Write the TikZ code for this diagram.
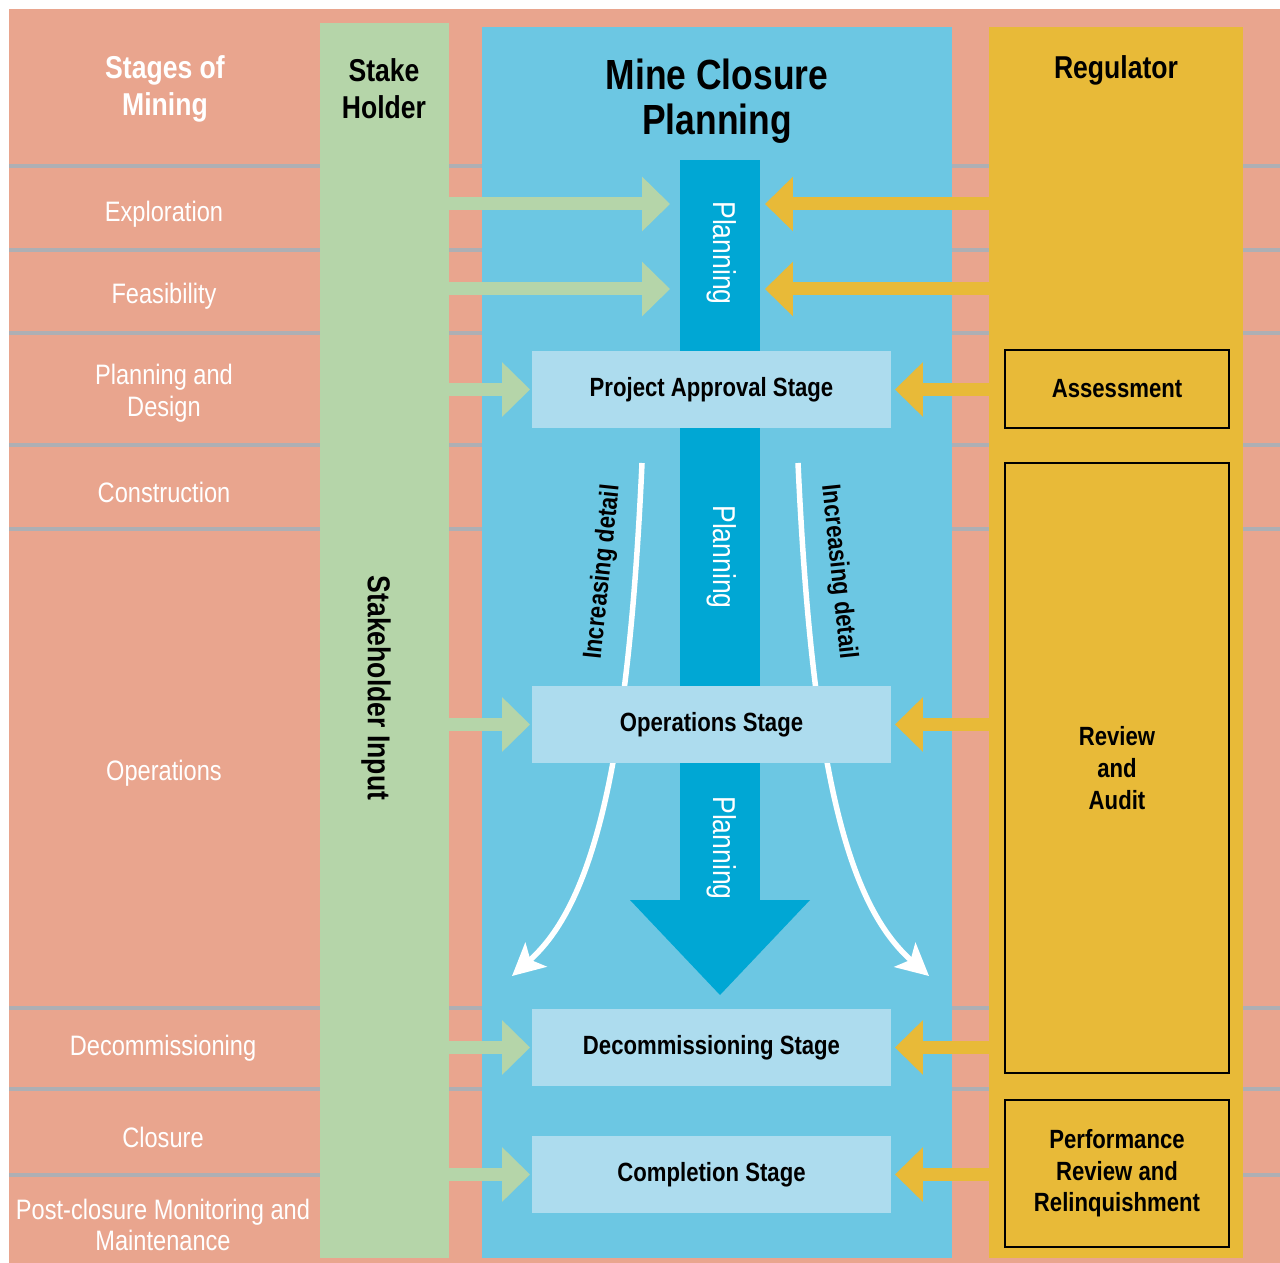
\documentclass[tikz,border=0pt]{standalone}
\usepackage{fontspec}
\setmainfont{Liberation Sans}[FakeStretch=0.84]
\usetikzlibrary{arrows.meta}
\definecolor{salmon}{RGB}{233,165,142}
\definecolor{sepgray}{RGB}{173,175,180}
\definecolor{stakegreen}{RGB}{181,213,169}
\definecolor{closureblue}{RGB}{108,199,227}
\definecolor{planblue}{RGB}{0,167,212}
\definecolor{boxblue}{RGB}{173,220,238}
\definecolor{reggold}{RGB}{232,186,56}
\tikzset{
  column/.style={inner sep=0pt, outer sep=0pt},
  sep/.style={draw=sepgray, line width=0.08cm},
  stagelabel/.style={text=white, align=center, font=\fontsize{16}{18}\selectfont},
  coltitle/.style={align=center, font=\bfseries\fontsize{18}{21}\selectfont},
  stagebox/.style={fill=boxblue, minimum width=7.18cm, minimum height=1.54cm, inner sep=0pt, outer sep=0pt, font=\bfseries\fontsize{15}{18}\selectfont},
  regbox/.style={draw=black, line width=1.4pt, minimum width=4.48cm, inner sep=0pt, align=center, font=\bfseries\fontsize{15}{18}\selectfont},
  planlabel/.style={text=white, rotate=-90, font=\fontsize{18}{20}\selectfont},
  detaillabel/.style={font=\bfseries\fontsize{15}{18}\selectfont},
  garrow/.style={draw=stakegreen, line width=0.26cm, -{Triangle[length=0.56cm, width=1.06cm]}},
  yarrow/.style={draw=reggold, line width=0.26cm, -{Triangle[length=0.56cm, width=1.06cm]}},
  detailarrow/.style={draw=white, line width=0.11cm, -{Stealth[length=0.64cm, width=0.64cm, inset=0.15cm]}}
}
\begin{document}
\begin{tikzpicture}[x=0.02cm, y=-0.02cm]
 \useasboundingbox[fill=white] (0,0) rectangle (1280,1263);
 \fill[salmon] (9,9) rectangle (1280,1263);
 \foreach \y in {166,250,333,445,529,1008,1089,1175}
   \draw[sep] (9,\y) -- (1280,\y);

 % columns
 \node[column, fill=stakegreen, minimum width=2.58cm, minimum height=24.7cm] (stake) at (384.5,640.5) {};
 \node[column, fill=closureblue, minimum width=9.4cm, minimum height=24.62cm] (closure) at (717,642.5) {};
 \node[column, fill=reggold, minimum width=5.08cm, minimum height=24.62cm] (regulator) at (1116,642.5) {};

 % stages of mining
 \node[coltitle, text=white] (stagestitle) at (165,89) {Stages of\\Mining};
 \node[stagelabel] (exploration) at (164,214) {Exploration};
 \node[stagelabel] (feasibility) at (164,296) {Feasibility};
 \node[stagelabel] (design) at (164,393) {Planning and\\Design};
 \node[stagelabel] (construction) at (164,492) {Construction};
 \node[stagelabel] (operations) at (164,773) {Operations};
 \node[stagelabel] (decommissioning) at (163,1048) {Decommissioning};
 \node[stagelabel] (closurelabel) at (163,1137) {Closure};
 \node[stagelabel] (postclosure) at (163,1225) {Post-closure Monitoring and\\Maintenance};

 \node[coltitle] (staketitle) at (384,89) {Stake\\Holder};
 \node[coltitle, rotate=-90] (stakeinput) at (376,688) {Stakeholder Input};
 \node[align=center, font=\bfseries\fontsize{24}{25.5}\selectfont] (closuretitle) at (717,101) {Mine Closure\\Planning};
 \node[coltitle] (regtitle) at (1116,70) {Regulator};

 % planning arrow
 \node[column, fill=planblue, minimum width=1.6cm, minimum height=14.8cm] (plan) at (720,530) {};
 \fill[planblue] (630,900) -- (810,900) -- (720,995) -- cycle;
 \node[planlabel] (plan1) at (722,253) {Planning};
 \node[planlabel] (plan2) at (722,557) {Planning};
 \node[planlabel] (plan3) at (722,848) {Planning};

 % increasing detail
 \coordinate (ldstart) at (642,463);
 \coordinate (ldend) at (512,976);
 \coordinate (rdstart) at (798,463);
 \coordinate (rdend) at (929,976);
 \draw[detailarrow] (ldstart) .. controls (628,770) and (592,905) .. (ldend);
 \draw[detailarrow] (rdstart) .. controls (812,770) and (848,905) .. (rdend);
 \node[detaillabel, rotate=84] (ldetail) at (603,572) {Increasing detail};
 \node[detaillabel, rotate=-84] (rdetail) at (838,572) {Increasing detail};

 % stages
 \node[stagebox] (approval) at (711.5,389.5) {Project Approval Stage};
 \node[stagebox] (opstage) at (711.5,724.5) {Operations Stage};
 \node[stagebox] (decstage) at (711.5,1047.5) {Decommissioning Stage};
 \node[stagebox] (completion) at (711.5,1174.5) {Completion Stage};

 % regulator boxes
 \node[regbox, minimum height=1.56cm] (assessment) at (1117,389) {Assessment};
 \node[regbox, minimum height=12.2cm] (review) at (1117,768) {Review\\and\\Audit};
 \node[regbox, minimum height=2.94cm] (performance) at (1117,1173.5) {Performance\\Review and\\Relinquishment};

 % inputs
 \coordinate (expl) at (0,204);
 \coordinate (feas) at (0,289);
 \draw[garrow, shorten >=0.2cm] (stake.east |- expl) -- (plan.west |- expl);
 \draw[garrow, shorten >=0.2cm] (stake.east |- feas) -- (plan.west |- feas);
 \draw[yarrow, shorten >=0.1cm] (regulator.west |- expl) -- (plan.east |- expl);
 \draw[yarrow, shorten >=0.1cm] (regulator.west |- feas) -- (plan.east |- feas);
 \foreach \s in {approval,opstage,decstage,completion}{
   \draw[garrow, shorten >=0.04cm] (stake.east |- \s) -- (\s.west);
   \draw[yarrow, shorten >=0.08cm] (regulator.west |- \s) -- (\s.east);
 }
\end{tikzpicture}
\end{document}
